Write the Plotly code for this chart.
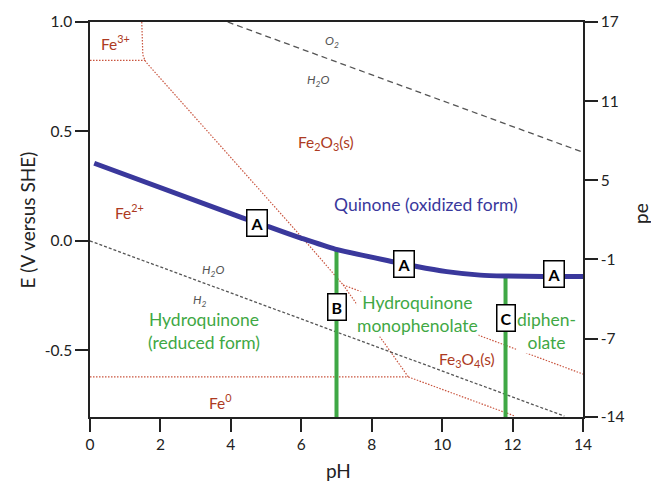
import plotly.graph_objects as go

# ---- data ----
quinone_ph = [0.12, 4.35, 5.07, 6.01, 6.96, 8.61, 9.28, 10.13, 11.08, 11.79, 12.87, 14.0]
quinone_E = [0.355, 0.104, 0.065, 0.012, -0.037, -0.095, -0.117, -0.140, -0.156, -0.160, -0.162, -0.162]

pka_lines_ph = [7.0, 11.8]
pka_lines_top = [-0.037, -0.160]

o2_ph = [3.91, 14.0]
o2_E = [1.0, 0.405]
h2_ph = [0.0, 13.47]
h2_E = [0.0, -0.80]

fe3_fe2_ph = [0.0, 1.56]
fe3_fe2_E = [0.825, 0.825]
fe3_fe2o3_ph = [1.47, 1.50, 1.56]
fe3_fe2o3_E = [1.0, 0.85, 0.825]
fe2_fe2o3_ph = [1.56, 1.61, 6.29, 7.19]
fe2_fe2o3_E = [0.825, 0.813, -0.033, -0.201]
fe2_fe3o4_ph = [7.19, 9.04]
fe2_fe3o4_E = [-0.201, -0.621]
fe2o3_fe3o4_ph = [7.19, 14.0]
fe2o3_fe3o4_E = [-0.201, -0.608]
fe2_fe0_ph = [0.0, 9.04]
fe2_fe0_E = [-0.621, -0.621]
fe3o4_fe0_ph = [9.04, 12.07]
fe3o4_fe0_E = [-0.621, -0.80]

x_ticks = [0, 2, 4, 6, 8, 10, 12, 14]
E_ticks = [-0.5, 0.0, 0.5, 1.0]
E_ticktext = ["-0.5", "0.0", "0.5", "1.0"]
pe_ticktext = ["17", "11", "5", "-1", "-7", "-14"]
pe_tickpos = [17, 11, 5, -1, -7, -12.95]

E_range = [-0.804, 1.0]
pe_range = [-12.95, 17]

BLUE = "#3a389c"
GREEN = "#3fa845"
RED_LINE = "#c9553f"
RED_TEXT = "#ad3a22"
GRAY = "#555555"
FONT = "Lato"

fig = go.Figure()

def line(xs, ys, color, width, dash):
    fig.add_trace(go.Scatter(x=xs, y=ys, mode="lines", showlegend=False, hoverinfo="skip",
                             line=dict(color=color, width=width, dash=dash)))

# iron boundaries
for xs, ys in [(fe3_fe2_ph, fe3_fe2_E), (fe3_fe2o3_ph, fe3_fe2o3_E), (fe2_fe2o3_ph, fe2_fe2o3_E),
               (fe2_fe3o4_ph, fe2_fe3o4_E), (fe2o3_fe3o4_ph, fe2o3_fe3o4_E),
               (fe2_fe0_ph, fe2_fe0_E), (fe3o4_fe0_ph, fe3o4_fe0_E)]:
    line(xs, ys, RED_LINE, 1.2, "1.5px,1.5px")

# water stability lines
line(o2_ph, o2_E, GRAY, 1.3, "6px,4px")
line(h2_ph, h2_E, GRAY, 1.3, "3px,2px")

# pKa lines
for ph, top in zip(pka_lines_ph, pka_lines_top):
    line([ph, ph], [top, E_range[0]], GREEN, 4, "solid")

# quinone line
fig.add_trace(go.Scatter(x=quinone_ph, y=quinone_E, mode="lines", showlegend=False, hoverinfo="skip",
                         line=dict(color=BLUE, width=5, shape="spline", smoothing=0.6)))

# dummy trace on the secondary axis
fig.add_trace(go.Scatter(x=[0], y=[0], yaxis="y2", mode="markers", showlegend=False,
                         hoverinfo="skip", marker=dict(opacity=0)))

ann = []

def text(x, y, t, color, size, italic=False, bg=None):
    a = dict(x=x, y=y, xref="x", yref="y", text=t, showarrow=False,
             font=dict(family=FONT, size=size, color=color), align="center")
    if italic:
        a["font"]["style"] = "italic"
    if bg:
        a["bgcolor"] = bg
        a["borderpad"] = 0
    ann.append(a)

def box(x, y, t):
    ann.append(dict(x=x, y=y, xref="x", yref="y", text="<b>%s</b>" % t, showarrow=False,
                    font=dict(family=FONT, size=16, color="black"),
                    bgcolor="white", bordercolor="black", borderwidth=1.5, borderpad=3))

text(0.72, 0.905, "Fe<sup>3+</sup>", RED_TEXT, 15.5)
text(1.13, 0.135, "Fe<sup>2+</sup>", RED_TEXT, 15.5)
text(6.69, 0.448, "Fe<sub>2</sub>O<sub>3</sub>(s)", RED_TEXT, 15.5)
text(3.7, -0.735, "Fe<sup>0</sup>", RED_TEXT, 15.5)
text(10.7, -0.545, "Fe<sub>3</sub>O<sub>4</sub>(s)", RED_TEXT, 15.5)

text(6.86, 0.91, "O<sub>2</sub>", GRAY, 12, italic=True)
text(6.48, 0.735, "H<sub>2</sub>O", GRAY, 12, italic=True)
text(3.5, -0.135, "H<sub>2</sub>O", GRAY, 12, italic=True)
text(3.13, -0.27, "H<sub>2</sub>", GRAY, 12, italic=True)

text(9.55, 0.168, "Quinone (oxidized form)", BLUE, 17.5)
text(3.24, -0.41, "Hydroquinone<br>(reduced form)", GREEN, 17.5)
text(9.3, -0.335, "Hydroquinone<br>monophenolate", GREEN, 17.5, bg="white")
text(12.97, -0.41, "diphen-<br>olate", GREEN, 17.5, bg="white")

box(4.73, 0.082, "A")
box(8.93, -0.105, "A")
box(13.19, -0.152, "A")
box(7.0, -0.302, "B")
box(11.8, -0.354, "C")

# axis titles
ann.append(dict(x=-63 / 493, y=0.5, xref="paper", yref="paper", text="E (V versus SHE)", showarrow=False,
                textangle=-90, font=dict(family=FONT, size=19, color="#222"), xanchor="center", yanchor="middle"))
ann.append(dict(x=248 / 493, y=-53 / 395, xref="paper", yref="paper", text="pH", showarrow=False,
                font=dict(family=FONT, size=19, color="#222"), xanchor="center", yanchor="middle"))
ann.append(dict(x=(640 - 90) / 493, y=(417 - 214) / 395, xref="paper", yref="paper", text="pe", showarrow=False,
                textangle=-90, font=dict(family=FONT, size=19, color="#222"), xanchor="center", yanchor="middle"))

axis_common = dict(showgrid=False, zeroline=False, showline=True, linecolor="#222", linewidth=1.5,
                   ticks="outside", ticklen=13, tickwidth=1.5, tickcolor="#222", automargin=False,
                   tickfont=dict(family=FONT, size=15.5, color="#222"))

fig.update_layout(
    width=651, height=495,
    margin=dict(l=90, r=68, t=22, b=78, autoexpand=False),
    paper_bgcolor="white", plot_bgcolor="white",
    showlegend=False,
    annotations=ann,
    xaxis=dict(range=[0, 14], tickvals=x_ticks, mirror=True, **axis_common),
    yaxis=dict(range=E_range, tickvals=E_ticks, ticktext=E_ticktext, **axis_common),
    yaxis2=dict(range=pe_range, tickvals=pe_tickpos, ticktext=pe_ticktext, overlaying="y", side="right",
                **axis_common),
)

fig.write_html("out.html", config={"displayModeBar": False},
               post_script="document.body.style.margin='0';document.body.style.overflow='hidden';")
